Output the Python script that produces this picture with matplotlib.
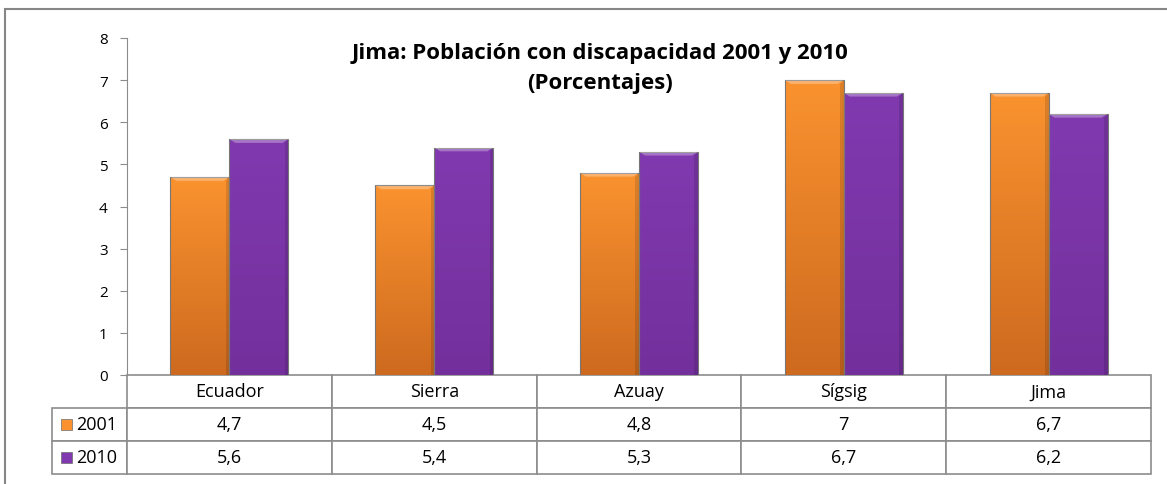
import matplotlib.pyplot as plt
import numpy as np
from matplotlib.patches import Rectangle, Polygon
from matplotlib.colors import LinearSegmentedColormap

plt.rcParams['font.family'] = ['Open Sans', 'DejaVu Sans']

categories = ['Ecuador', 'Sierra', 'Azuay', 'Sígsig', 'Jima']
series_names = ['2001', '2010']
values_2001 = [4.7, 4.5, 4.8, 7, 6.7]
values_2010 = [5.6, 5.4, 5.3, 6.7, 6.2]
labels_2001 = ['4,7', '4,5', '4,8', '7', '6,7']
labels_2010 = ['5,6', '5,4', '5,3', '6,7', '6,2']

orange_top, orange_bot = '#FA922F', '#CD6A1F'
purple_top, purple_bot = '#8139AF', '#73309C'
grid_gray = '#8C8C8C'

W, H = 1167, 485
AX_L, AX_R, AX_T, AX_B = 127, 1151, 39, 376   # pixel box of the plot area
aw, ah = AX_R - AX_L, AX_B - AX_T

fig = plt.figure(figsize=(W / 100, H / 100), dpi=100)
ax = fig.add_axes([AX_L / W, (H - AX_B) / H, aw / W, ah / H])

# outer chart frame
fig.patches.append(Rectangle((5 / W, -0.2), 1.2, 1.2 - 10 / H, transform=fig.transFigure,
                             fill=False, edgecolor='#868686', lw=1.5))


def shaded_bar(x, h, w, top, bot):
    cmap = LinearSegmentedColormap.from_list('g', [bot, top])
    grad = np.linspace(0, 1, 100).reshape(-1, 1)
    im = ax.imshow(grad, extent=(x - w / 2, x + w / 2, 0, h), origin='lower',
                   cmap=cmap, aspect='auto', zorder=2)
    rect = Rectangle((x - w / 2, 0), w, h, facecolor='none', edgecolor='#777777',
                     lw=0.8, zorder=3)
    ax.add_patch(rect)
    im.set_clip_path(rect)
    # bevel on the top edge
    bw, bh = w * 0.1, 0.09
    ax.add_patch(Polygon([(x - w / 2, h), (x + w / 2, h), (x + w / 2 - bw, h - bh),
                          (x - w / 2 + bw, h - bh)], closed=True,
                         facecolor='white', alpha=0.3, lw=0, zorder=3))
    ax.add_patch(Polygon([(x + w / 2, h), (x + w / 2, 0), (x + w / 2 - bw * 0.6, 0),
                          (x + w / 2 - bw * 0.6, h - bh)], closed=True,
                         facecolor='black', alpha=0.12, lw=0, zorder=3))


x = np.arange(len(categories))
bw = 0.288
for i in range(len(categories)):
    shaded_bar(x[i] - bw / 2, values_2001[i], bw, orange_top, orange_bot)
    shaded_bar(x[i] + bw / 2, values_2010[i], bw, purple_top, purple_bot)

ax.set_xlim(-0.5, len(categories) - 0.5)
ax.set_ylim(0, 8)
ax.set_yticks(range(0, 9))
ax.set_xticks([])
for s in ['top', 'right', 'bottom']:
    ax.spines[s].set_visible(False)
ax.spines['left'].set_color(grid_gray)
ax.tick_params(axis='y', colors=grid_gray, length=5, labelsize=11, labelcolor='black', pad=9)

# data table under the plot
tab_l = 52
lab_w = AX_L - tab_l
tab_h = 99
cell_text = [[series_names[0]] + labels_2001, [series_names[1]] + labels_2010]
tbl = ax.table(cellText=cell_text, colLabels=[''] + categories, cellLoc='center',
               colWidths=[lab_w] + [aw / len(categories)] * len(categories),
               bbox=[-lab_w / aw, -tab_h / ah, 1 + lab_w / aw, tab_h / ah])
tbl.auto_set_font_size(False)
tbl.set_fontsize(13)
for (r, c), cell in tbl.get_celld().items():
    cell.set_edgecolor(grid_gray)
    cell.set_linewidth(1.2)
    if r == 0 and c == 0:
        cell.visible_edges = 'open'
    elif c == 0:
        cell._loc = 'left'
        cell.PAD = 0.32
        cell.get_text().set_ha('left')

# legend keys in row-label cells
for j, col in enumerate([orange_top, purple_top]):
    yc = AX_B + tab_h / 3 * (j + 1.5)
    ax.add_patch(Rectangle(((61 - AX_L) / aw, -(yc + 5.5 - AX_B) / ah), 11 / aw, 11 / ah,
                           transform=ax.transAxes, clip_on=False,
                           facecolor=col, edgecolor='#6d6d6d', lw=0.5))

fig.text(600 / W, 1 - 53 / H, 'Jima: Población con discapacidad 2001 y 2010',
         ha='center', va='center', fontsize=16, fontweight='bold')
fig.text(600 / W, 1 - 83 / H, '(Porcentajes)', ha='center', va='center',
         fontsize=16, fontweight='bold')

fig.savefig('out.png', dpi=100)
